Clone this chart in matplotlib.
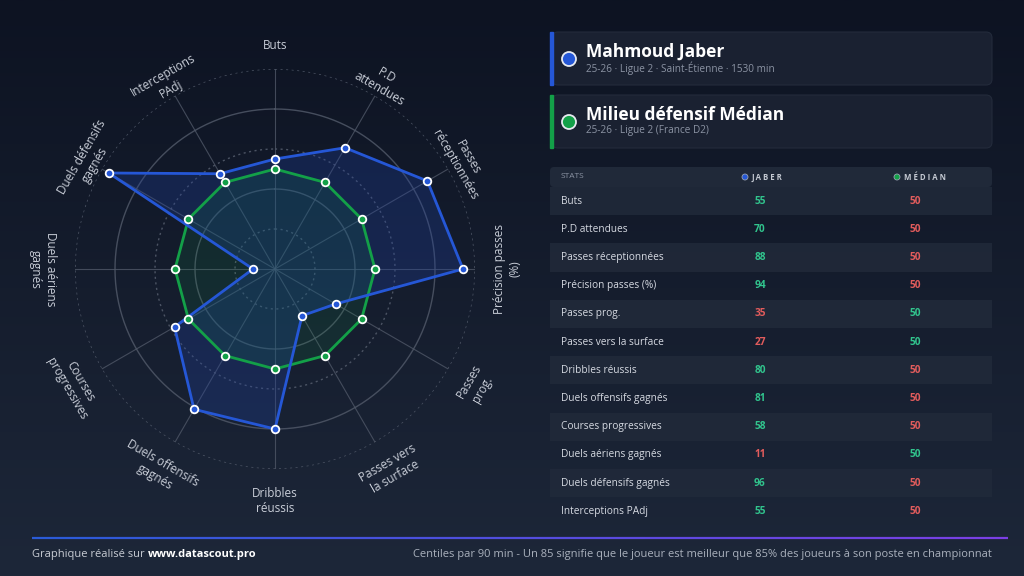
import matplotlib.pyplot as plt
import numpy as np
from matplotlib.patches import FancyBboxPatch, Rectangle, Circle
from matplotlib.colors import LinearSegmentedColormap

plt.rcParams['font.family'] = ['Open Sans', 'DejaVu Sans']

# Data
categories = ['Buts', 'P.D attendues', 'Passes réceptionnées', 'Précision passes (%)',
              'Passes prog.', 'Passes vers la surface', 'Dribbles réussis',
              'Duels offensifs gagnés', 'Courses progressives', 'Duels aériens gagnés',
              'Duels défensifs gagnés', 'Interceptions PAdj']
radar_labels = ['Buts', 'P.D\nattendues', 'Passes\nréceptionnées', 'Précision passes\n(%)',
                'Passes\nprog.', 'Passes vers\nla surface', 'Dribbles\nréussis',
                'Duels offensifs\ngagnés', 'Courses\nprogressives', 'Duels aériens\ngagnés',
                'Duels défensifs\ngagnés', 'Interceptions\nPAdj']
jaber = [55, 70, 88, 94, 35, 27, 80, 81, 58, 11, 96, 55]
median = [50] * 12

player_name = 'Mahmoud Jaber'
player_sub = '25-26 · Ligue 2 · Saint-Étienne · 1530 min'
ref_name = 'Milieu défensif Médian'
ref_sub = '25-26 · Ligue 2 (France D2)'

BLUE = '#2557d6'
GREEN = '#13a048'
GOOD = '#31c48d'
BAD = '#e25c5c'
TXT = '#d6dae2'
MUTED = '#8b93a3'
GRID = '#4f5767'

fig = plt.figure(figsize=(10.24, 5.76), dpi=100)

# background gradient
bg = fig.add_axes([0, 0, 1, 1])
bg.set_xlim(0, 1024)
bg.set_ylim(576, 0)
bg.axis('off')
grad = np.linspace(0, 1, 256)[:, None]
cm_bg = LinearSegmentedColormap.from_list('bg', ['#0d1322', '#1d2739'])
bg.imshow(grad, cmap=cm_bg, extent=[0, 1024, 576, 0], aspect='auto', zorder=0)

# ---- radar ----
cx, cy, R = 275, 269, 200
ax = fig.add_axes([(cx - R) / 1024, (576 - cy - R) / 576, 2 * R / 1024, 2 * R / 576],
                  projection='polar')
ax.set_facecolor('none')
ax.set_theta_zero_location('N')
ax.set_theta_direction(-1)
ax.set_ylim(0, 100)
ax.grid(False)
ax.spines['polar'].set_visible(False)
ax.set_xticks([])
ax.set_yticks([])

n = len(categories)
angles = np.arange(n) * 2 * np.pi / n
full = np.linspace(0, 2 * np.pi, 300)
for r in [20, 40, 60, 80, 100]:
    if r in (40, 80):
        ax.plot(full, [r] * 300, color=GRID, lw=1.0, alpha=0.85, zorder=1)
    else:
        ax.plot(full, [r] * 300, color=GRID, lw=1.0, ls=(0, (1.5, 2.5)), alpha=0.95, zorder=1)
for a in angles:
    ax.plot([a, a], [0, 100], color=GRID, lw=0.8, alpha=0.8, zorder=1)

ang_c = np.append(angles, angles[0])
med_c = np.append(median, median[0])
jab_c = np.append(jaber, jaber[0])
ax.fill(ang_c, jab_c, color='#1e3f9e', alpha=0.3, zorder=2)
ax.fill(ang_c, med_c, color=GREEN, alpha=0.12, zorder=3)
ax.plot(ang_c, med_c, color=GREEN, lw=2, zorder=4)
ax.plot(ang_c, jab_c, color=BLUE, lw=2, zorder=5)
ax.scatter(angles, median, s=30, color=GREEN, edgecolor='white', linewidth=1.3, zorder=6)
ax.scatter(angles, jaber, s=30, color=BLUE, edgecolor='white', linewidth=1.3, zorder=7)

# labels: first line sits on the label circle, next lines stack below it (text frame)
rots = [0, -30, -60, 90, 60, 30, 0, -30, -60, -90, 60, 30]
line_pt = 11
for a, lab, rot in zip(angles, radar_labels, rots):
    rr = np.deg2rad(rot)
    down = np.array([np.sin(rr), -np.cos(rr)])
    for k, line in enumerate(lab.split('\n')):
        off = down * (k * line_pt + 3.0)
        ax.annotate(line, xy=(a, 112), xytext=(off[0], off[1]), textcoords='offset points',
                    rotation=rot, rotation_mode='anchor', ha='center', va='baseline',
                    color='#c9ced8', fontsize=8.5, annotation_clip=False)

# ---- cards ----
def card(y0, color, name, sub):
    bg.add_patch(FancyBboxPatch((552, y0), 440, 53, boxstyle='round,pad=0,rounding_size=6',
                                fc='#1a2131', ec='#232b3b', lw=0.8, zorder=2))
    bg.add_patch(Rectangle((550, y0), 3, 53, color=color, zorder=3))
    bg.add_patch(Circle((569, y0 + 27), 7, fc=color, ec='#e6e9ef', lw=1.3, zorder=3))
    bg.text(586, y0 + 20, name, color='white', fontsize=12.5, fontweight='bold',
            va='center', ha='left', zorder=4)
    bg.text(586, y0 + 36, sub, color=MUTED, fontsize=7.2, va='center', ha='left', zorder=4)

card(32, BLUE, player_name, player_sub)
card(95, GREEN, ref_name, ref_sub)

# ---- table ----
top = 167
row_h = 28.2
bg.add_patch(FancyBboxPatch((550, top), 442, 20, boxstyle='round,pad=0,rounding_size=4',
                            fc='#202939', ec='none', zorder=2))
bg.text(561, top + 10, 'STATS', color=MUTED, fontsize=6, va='center', ha='left', zorder=3)
bg.add_patch(Circle((745, top + 10), 3, fc=BLUE, ec='#9aa3b3', lw=0.6, zorder=3))
bg.text(752, top + 10.5, 'J A B E R', color='#c5cad3', fontsize=5.6, fontweight='bold',
        va='center', ha='left', zorder=3)
bg.add_patch(Circle((897, top + 10), 3, fc=GREEN, ec='#9aa3b3', lw=0.6, zorder=3))
bg.text(904, top + 10.5, 'M É D I A N', color='#c5cad3', fontsize=5.6, fontweight='bold',
        va='center', ha='left', zorder=3)

y = top + 20
for i, (cat, jv, mv) in enumerate(zip(categories, jaber, median)):
    if i % 2 == 0:
        bg.add_patch(Rectangle((550, y), 442, row_h, fc='#212a3a', ec='none', alpha=0.85, zorder=2))
    bg.text(561, y + row_h / 2, cat, color=TXT, fontsize=7.3, va='center', ha='left', zorder=3)
    jc = GOOD if jv > mv else BAD
    mc = BAD if jv > mv else GOOD
    bg.text(760, y + row_h / 2, str(jv), color=jc, fontsize=7.3, fontweight='bold',
            va='center', ha='center', zorder=3)
    bg.text(915, y + row_h / 2, str(mv), color=mc, fontsize=7.3, fontweight='bold',
            va='center', ha='center', zorder=3)
    y += row_h

# ---- footer ----
xs = np.linspace(32, 1008, 200)
cm_line = LinearSegmentedColormap.from_list('ln', ['#2a5bd7', '#7b3fe4'])
for k in range(len(xs) - 1):
    bg.plot(xs[k:k + 2], [538, 538], color=cm_line(k / (len(xs) - 1)), lw=1.6,
            solid_capstyle='butt', zorder=3)
t1 = bg.text(32, 555, 'Graphique réalisé sur ', color='#c8ccd4', fontsize=8,
             va='center', ha='left', zorder=3)
fig.canvas.draw()
x_end = t1.get_window_extent().x1
xd = bg.transData.inverted().transform((x_end, 0))[0]
bg.text(xd, 555, 'www.datascout.pro', color='white', fontsize=8, fontweight='bold',
        va='center', ha='left', zorder=3)
bg.text(992, 555, 'Centiles par 90 min - Un 85 signifie que le joueur est meilleur que 85% '
        'des joueurs à son poste en championnat', color='#aab1bd', fontsize=8,
        va='center', ha='right', zorder=3)

fig.savefig('out.png', dpi=100, facecolor='#0d1322')
